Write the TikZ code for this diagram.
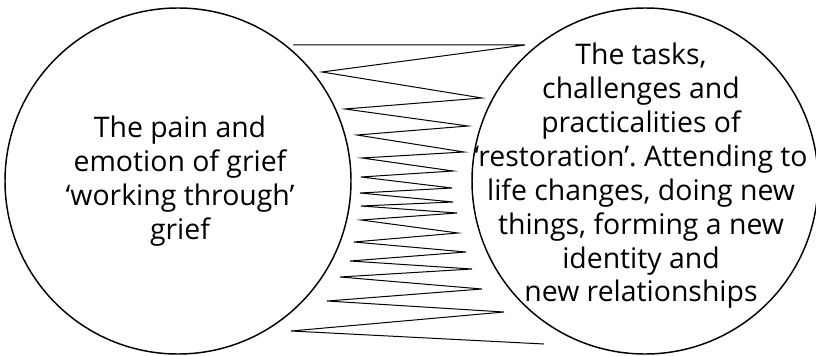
\documentclass[tikz,border=0pt]{standalone}
\usepackage{fontspec}
\setmainfont{Open Sans}
\frenchspacing
\usetikzlibrary{shapes,positioning}

\tikzset{
  phase/.style={circle, draw, line width=1.1pt, minimum size=259.5pt, inner sep=0pt},
  phasetext/.style={align=center, inner sep=0pt, font=\fontsize{21.3}{25.4}\selectfont},
  oscillation/.style={line width=0.75pt, line join=miter}
}

\begin{document}
\begin{tikzpicture}[x=0.75pt,y=-0.75pt]
\useasboundingbox (0,0) rectangle (816,356);
% the two orientations
\node[phase] (loss) at (178,181) {};
\node[phase] (restore) at (645,181) {};
\node[phasetext] (losstext) at (180,181) {The pain and\\emotion of grief\\`working through'\\grief};
\node[phasetext] (restoretext) at (641,176) {The tasks,\\challenges and\\practicalities of\\`restoration'. Attending to\\life changes, doing new\\things, forming a new\\identity and\\new relationships};
% oscillation between them
\draw[oscillation] (293,45) -- (525,45) -- (322,72) -- (482,98) -- (345,109) -- (468,126)
  -- (357,135) -- (464,152) -- (362,158) -- (453,171) -- (361,177) -- (452,188)
  -- (360,193) -- (453,202) -- (361,206) -- (457,213) -- (361,220) -- (458,233)
  -- (354,242) -- (466,252) -- (350,261) -- (472,269) -- (340,277) -- (482,289)
  -- (327,301) -- (504,312) -- (291,331) -- (544,344);
\end{tikzpicture}
\end{document}
